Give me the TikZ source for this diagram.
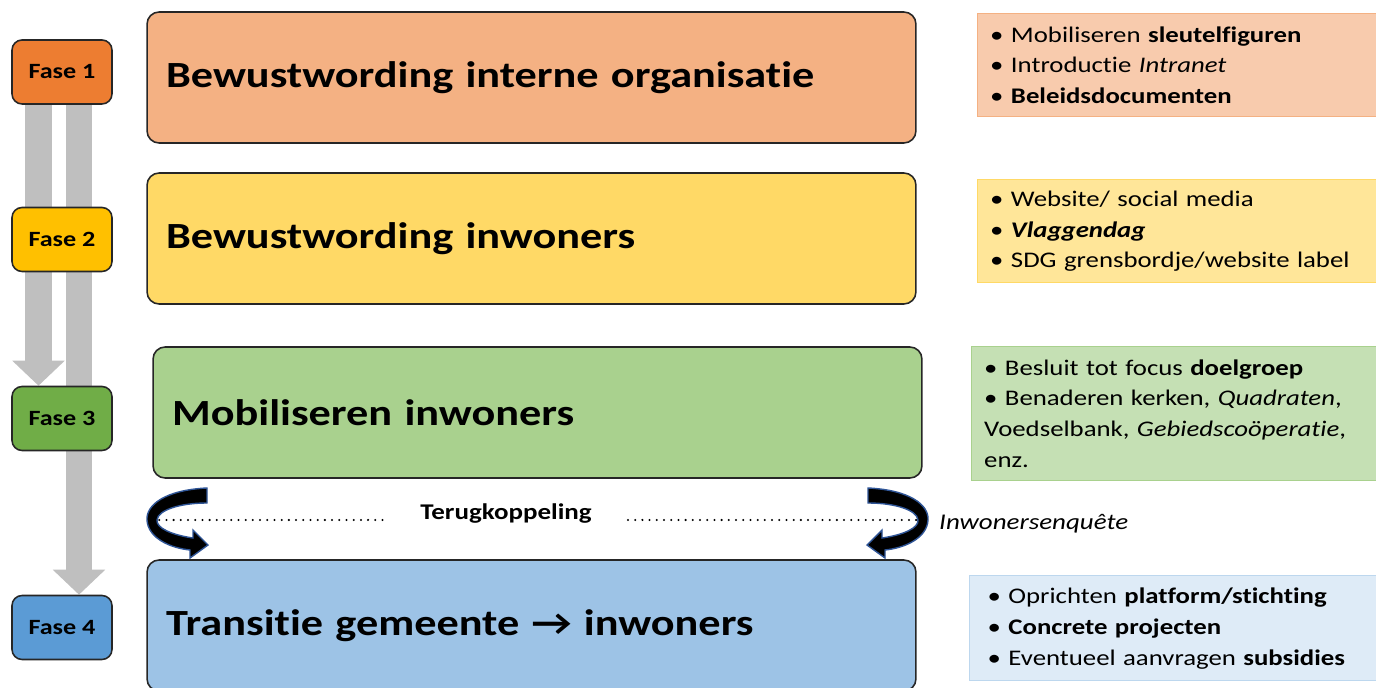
\documentclass[tikz,border=0pt]{standalone}
\usepackage{fontspec}
\setmainfont{Carlito}[FakeStretch=1.2, Ligatures=NoCommon]
\usepackage{xcolor}
\usetikzlibrary{arrows.meta, backgrounds}

\definecolor{faseone}{HTML}{ED7D31}
\definecolor{fasetwo}{HTML}{FFC000}
\definecolor{fasethree}{HTML}{70AD47}
\definecolor{fasefour}{HTML}{5B9BD5}
\definecolor{mainone}{HTML}{F4B183}
\definecolor{maintwo}{HTML}{FFD966}
\definecolor{mainthree}{HTML}{A9D18E}
\definecolor{mainfour}{HTML}{9DC3E6}
\definecolor{sideone}{HTML}{F8CBAD}
\definecolor{sidetwo}{HTML}{FFE699}
\definecolor{sidethree}{HTML}{C5E0B4}
\definecolor{sidefour}{HTML}{DEEBF7}
\definecolor{sidefourline}{HTML}{BDD7EE}
\definecolor{flowgray}{HTML}{BFBFBF}
\definecolor{loopline}{HTML}{2F5597}

\begin{document}
\begin{tikzpicture}[x=0.02cm, y=-0.02cm,
    fasebox/.style={draw=black!85, line width=0.9pt, rounded corners=0.2cm,
        minimum width=2cm, minimum height=1.28cm,
        font=\fontsize{12.4}{15}\selectfont\bfseries},
    mainbox/.style={draw=black!85, line width=0.9pt, rounded corners=0.24cm,
        minimum width=15.38cm, minimum height=2.62cm, inner xsep=0.38cm,
        text width=14.62cm, align=left,
        font=\fontsize{21}{24}\selectfont\bfseries},
    sidebox/.style={line width=0.8pt, anchor=north west, minimum width=8.2cm,
        inner xsep=0.22cm, text width=7.7cm, align=left,
        font=\fontsize{12.7}{17.6}\selectfont},
    flow/.style={flowgray, line width=0.54cm,
        -{Triangle[width=1.02cm, length=0.5cm]}},
    feedback/.style={line width=1.3pt, line cap=round, dash pattern=on 0pt off 4.1pt},
    loop arrow/.pic={
        \draw[fill=black, draw=loopline, line width=0.8pt]
            (0,-32) .. controls (-42,-30) and (-61,-15) .. (-60,0)
            .. controls (-59,18) and (-37,28) .. (-17,30)
            -- (-17,38) -- (1,25) -- (-14,10) -- (-14,18)
            .. controls (-35,15) and (-51,8) .. (-50,0)
            .. controls (-49,-10) and (-27,-17) .. (0,-17) -- cycle;
    }]
\useasboundingbox (0,0) rectangle (1376,688);

% phases
\node[fasebox, fill=faseone] (f1) at (62,72) {Fase 1};
\node[fasebox, fill=fasetwo] (f2) at (62,239.5) {Fase 2};
\node[fasebox, fill=fasethree] (f3) at (62,418.5) {Fase 3};
\node[fasebox, fill=fasefour] (f4) at (62,627.5) {Fase 4};

% f1 -> f3, f1 -> f4
\begin{scope}[on background layer]
\draw[flow] ([xshift=-0.47cm]f1.center) -- ([xshift=-0.47cm]f3.north);
\draw[flow] ([xshift=0.34cm]f1.center) -- ([xshift=0.34cm]f4.north);
\end{scope}

% main steps
\node[mainbox, fill=mainone] (m1) at (531.5,77.5) {Bewustwording interne organisatie};
\node[mainbox, fill=maintwo] (m2) at (531.5,238.5) {Bewustwording inwoners};
\node[mainbox, fill=mainthree] (m3) at (537.5,412.5) {Mobiliseren inwoners};
\node[mainbox, fill=mainfour] (m4) at (531.5,625.5) {Transitie gemeente → inwoners};

% actions
\node[sidebox, draw=mainone, fill=sideone, minimum height=2.06cm] (s1) at (977,13)
    {\textbullet\ Mobiliseren \textbf{sleutelfiguren}\\
     \textbullet\ Introductie \textit{Intranet}\\
     \textbullet\ \textbf{Beleidsdocumenten}};
\node[sidebox, draw=maintwo, fill=sidetwo, minimum height=2.06cm] (s2) at (977,179)
    {\textbullet\ Website/ social media\\
     \textbullet\ \textbf{\textit{Vlaggendag}}\\
     \textbullet\ SDG grensbordje/website label};
\node[sidebox, draw=mainthree, fill=sidethree, minimum height=2.68cm,
    inner xsep=0.24cm] (s3) at (971,346)
    {\textbullet\ Besluit tot focus \textbf{doelgroep}\\
     \textbullet\ Benaderen kerken, \textit{Quadraten},\\
     Voedselbank, \textit{Gebiedscoöperatie},\\
     enz.};
\node[sidebox, draw=sidefourline, fill=sidefour, minimum height=2.1cm,
    inner xsep=0.36cm] (s4) at (969,575)
    {\textbullet\ Oprichten \textbf{platform/stichting}\\
     \textbullet\ \textbf{Concrete projecten}\\
     \textbullet\ Eventueel aanvragen \textbf{subsidies}};

% feedback m3 <-> m4
\node[font=\fontsize{12.8}{15}\selectfont\bfseries, inner xsep=0.72cm] (tk) at (506,514) {Terugkoppeling};
\node[anchor=west, font=\fontsize{12.8}{15}\selectfont\itshape] (enq) at (933,524) {Inwonersenquête};
\coordinate (dl) at (152,520);
\coordinate (dr) at (925,520);
\draw[feedback] (dl) -- (dl -| tk.west);
\draw[feedback] (dr -| tk.east) -- (dr);
\pic at (207,520) {loop arrow};
\pic[xscale=-1] at (868,520) {loop arrow};
\end{tikzpicture}
\end{document}
